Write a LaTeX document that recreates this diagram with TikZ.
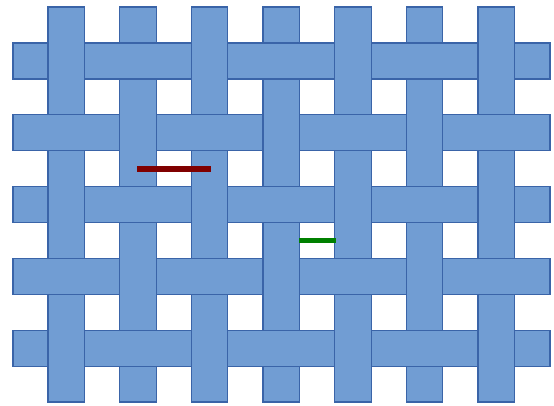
\documentclass[tikz,border=0pt]{standalone}
\usepackage{tikz}
\definecolor{stripfill}{RGB}{113,157,211}
\definecolor{stripedge}{RGB}{58,100,168}
\definecolor{markred}{RGB}{128,0,0}
\definecolor{markgreen}{RGB}{0,128,0}
\tikzset{
  strip/.style={fill=stripfill,draw=stripedge,line width=1.2pt},
  stripedgeline/.style={draw=stripedge,line width=1.2pt},
  markline/.style={line width=#1},
}
\begin{document}
\begin{tikzpicture}[x=1pt,y=-1pt]
\useasboundingbox (0,0) rectangle (554,405);
% horizontal strips
\foreach \j in {0,...,4}{
  \draw[strip] (13,{43+71.8*\j}) rectangle (550,{43+71.8*\j+36});
}
% vertical strips
\foreach \i in {0,...,6}{
  \draw[strip] ({48+71.67*\i},7) rectangle ({48+71.67*\i+36.5},402);
}
% crossings where the horizontal strip lies on top
\foreach \i in {0,...,6}{
  \foreach \j in {0,...,4}{
    \pgfmathtruncatemacro{\odd}{mod(\i+\j,2)}
    \ifnum\odd=1
      \pgfmathsetmacro{\xa}{48+71.67*\i-0.9}
      \pgfmathsetmacro{\xb}{48+71.67*\i+36.5+0.9}
      \pgfmathsetmacro{\ya}{43+71.8*\j}
      \pgfmathsetmacro{\yb}{43+71.8*\j+36}
      \fill[stripfill] (\xa,\ya) rectangle (\xb,\yb);
      \draw[stripedgeline] (\xa,\ya) -- (\xb,\ya);
      \draw[stripedgeline] (\xa,\yb) -- (\xb,\yb);
    \fi
  }
}
% marks
\coordinate (r1) at (137,169);
\coordinate (r2) at (211,169);
\coordinate (g1) at (299,240);
\coordinate (g2) at (336,240);
\draw[markline=6pt,draw=markred] (r1) -- (r2);
\draw[markline=5pt,draw=markgreen] (g1) -- (g2);
\end{tikzpicture}
\end{document}
